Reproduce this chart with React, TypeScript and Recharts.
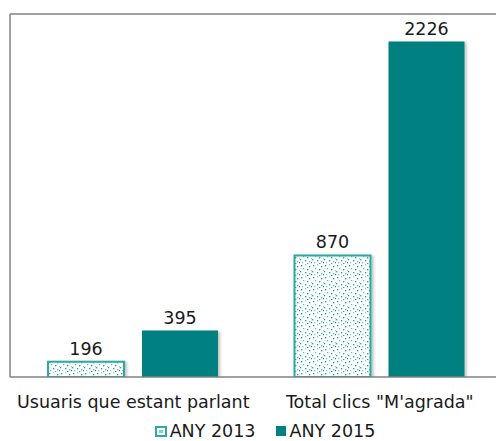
import React from "react";
import { BarChart, Bar, XAxis, YAxis, Legend, LabelList, ReferenceLine } from "recharts";

const categories = ["Usuaris que estant parlant", 'Total clics "M\'agrada"'];
const any2013 = [196, 870];
const any2015 = [395, 2226];
const seriesNames = ["ANY 2013", "ANY 2015"];

const data = categories.map((c, i) => ({ name: c, a2013: any2013[i], a2015: any2015[i] }));

const FONT = "'DejaVu Sans', Verdana, sans-serif";
const FS = 17.5;
const TEAL = "#008080";
const LIGHT_TEAL = "#2aaaa2";

const dots: [number, number, string][] = [
  [1, 1, "#1a9a95"], [5, 0, "#7fcfcb"], [9, 2, "#1a9a95"], [3, 4, "#5fbfba"],
  [7, 5, "#1a9a95"], [11, 6, "#7fcfcb"], [0, 7, "#2aa5a0"], [5, 8, "#1a9a95"],
  [9, 9, "#5fbfba"], [2, 10, "#7fcfcb"], [7, 11, "#2aa5a0"], [11, 10, "#1a9a95"],
];

const LegendContent = () => (
  <div style={{ display: "flex", justifyContent: "center", alignItems: "center", height: 20, paddingLeft: 27, fontFamily: FONT, fontSize: FS, color: "#1a1a1a" }}>
    <span style={{ display: "inline-flex", alignItems: "center", marginRight: 20 }}>
      <svg width={12} height={11} style={{ marginRight: 3 }}>
        <rect x={1} y={1} width={10} height={9} fill="#fff" stroke={LIGHT_TEAL} strokeWidth={2} />
        <rect x={4} y={4} width={4} height={3} fill="#7fcfcb" />
      </svg>
      {seriesNames[0]}
    </span>
    <span style={{ display: "inline-flex", alignItems: "center" }}>
      <svg width={11} height={11} style={{ marginRight: 3 }}>
        <rect x={0} y={0} width={10} height={10} fill={TEAL} />
      </svg>
      {seriesNames[1]}
    </span>
  </div>
);

export default function App() {
  return (
    <div style={{ position: "absolute", left: 0, top: 0, width: 496, height: 441, overflow: "hidden", background: "#fff" }}>
      <BarChart
        width={510}
        height={441}
        data={data}
        margin={{ top: 14, right: 7, left: 0, bottom: 0 }}
        barSize={76}
        barGap={18}
      >
        <defs>
          <pattern id="dots" width={12} height={12} patternUnits="userSpaceOnUse">
            <rect x={0} y={0} width={12} height={12} fill="#fff" />
            {dots.map(([x, y, c], i) => (
              <rect key={i} x={x} y={y} width={1.3} height={1.3} fill={c} />
            ))}
          </pattern>
          <filter id="shadow" x="-10%" y="-10%" width="130%" height="130%">
            <feDropShadow dx={2} dy={1} stdDeviation={1.5} floodColor="#000" floodOpacity={0.25} />
          </filter>
        </defs>
        <YAxis
          domain={[100, 2400]}
          allowDataOverflow
          width={10}
          tick={false}
          tickLine={false}
          axisLine={{ stroke: "#808080", strokeWidth: 1.5 }}
        />
        <XAxis
          dataKey="name"
          height={44}
          tickLine={false}
          axisLine={{ stroke: "#808080", strokeWidth: 1.5 }}
          tick={{ fontFamily: FONT, fontSize: FS, fill: "#1a1a1a" }}
          tickMargin={13}
        />
        <ReferenceLine y={2400} stroke="#808080" strokeWidth={1.5} />
        <Legend verticalAlign="bottom" height={20} content={<LegendContent />} />
        <Bar dataKey="a2013" name={seriesNames[0]} fill="url(#dots)" stroke={LIGHT_TEAL} strokeWidth={2} isAnimationActive={false} style={{ filter: "url(#shadow)" }}>
          <LabelList dataKey="a2013" position="top" offset={7} style={{ fontFamily: FONT, fontSize: FS, fill: "#1a1a1a" }} />
        </Bar>
        <Bar dataKey="a2015" name={seriesNames[1]} fill={TEAL} isAnimationActive={false} style={{ filter: "url(#shadow)" }}>
          <LabelList dataKey="a2015" position="top" offset={6} style={{ fontFamily: FONT, fontSize: FS, fill: "#1a1a1a" }} />
        </Bar>
      </BarChart>
    </div>
  );
}
